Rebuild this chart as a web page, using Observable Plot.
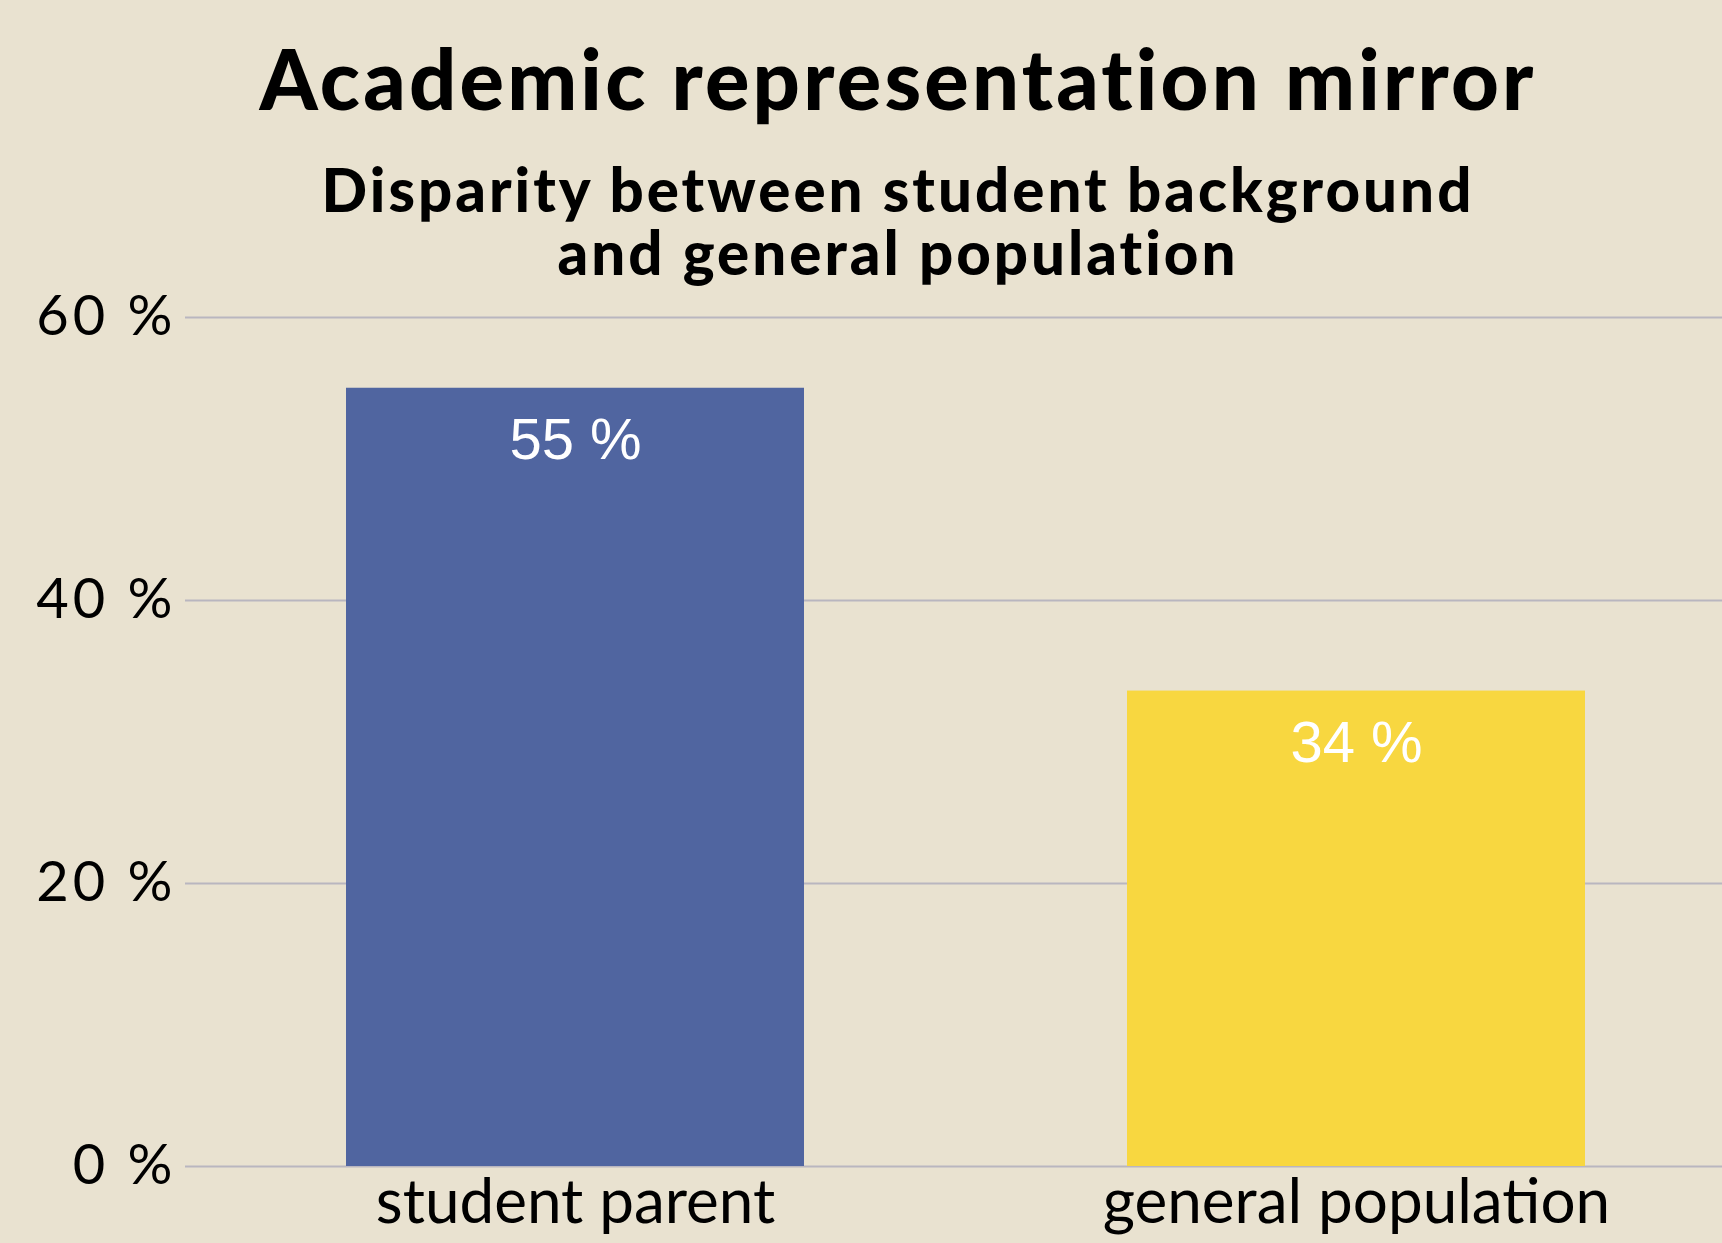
<!DOCTYPE html>
<html>
<head>
<meta charset="utf-8">
<script src="https://cdn.jsdelivr.net/npm/d3@7"></script>
<script src="https://cdn.jsdelivr.net/npm/@observablehq/plot@0.6"></script>
<style>
  html, body { margin: 0; padding: 0; background: #e9e2d0; width: 1722px; height: 1243px; overflow: hidden; }
  #title { position: absolute; left: 0; top: 37px; width: 1796px; text-align: center;
           font-family: Lato, sans-serif; font-weight: 900; font-size: 83px; line-height: 83px; letter-spacing: 3.2px; color: #000; }
  .sub { position: absolute; left: 0; width: 1796px; height: 63px; text-align: center;
         font-family: Lato, sans-serif; font-weight: 900; font-size: 60px; line-height: 63px; letter-spacing: 3px; color: #000; }
  #sub1 { top: 158px; }
  #sub2 { top: 221px; }
  #chart { position: absolute; left: 0; top: 250px; }
  #chart svg { overflow: visible; }
  #chart g[aria-label="y-axis tick label"] text { letter-spacing: 4px; }
</style>
</head>
<body>
<div id="title">Academic representation mirror</div>
<div id="sub1" class="sub">Disparity between student background</div>
<div id="sub2" class="sub">and general population</div>
<div id="chart"></div>
<script>
const categories = ["student parent", "general population"];
const values = [55, 33.6];
const colors = ["#5065a0", "#f8d740"];
const yTicks = [0, 20, 40, 60];

const data = categories.map((c, i) => ({category: c, value: values[i], color: colors[i]}));

const chart = Plot.plot({
  width: 1722,
  height: 993,
  marginTop: 67,
  marginBottom: 77,
  marginLeft: 185,
  marginRight: 0,
  style: {background: "transparent", fontFamily: "Lato, sans-serif", color: "#000"},
  x: {domain: categories, paddingInner: 0.414, paddingOuter: 0.19, align: 0.54},
  y: {domain: [0, 60]},
  marks: [
    Plot.gridY(yTicks, {stroke: "#b9b6bf", strokeOpacity: 1, strokeWidth: 2}),
    Plot.barY(data, {x: "category", y: "value", fill: "color"}),
    Plot.text(data, {x: "category", y: "value", text: d => d3.format(".0f")(d.value) + " %",
      lineAnchor: "top", dy: 30, fill: "white", fontSize: 58, fontFamily: "Liberation Sans, Arial, sans-serif"}),
    Plot.axisY(yTicks, {label: null, tickSize: 0, tickPadding: 9, tickFormat: d => d + " %",
      fontSize: 56, fill: "#000"}),
    Plot.axisX({label: null, tickSize: 0, tickPadding: 12, fontSize: 62, fill: "#000"})
  ]
});
document.getElementById("chart").appendChild(chart);
</script>
</body>
</html>
